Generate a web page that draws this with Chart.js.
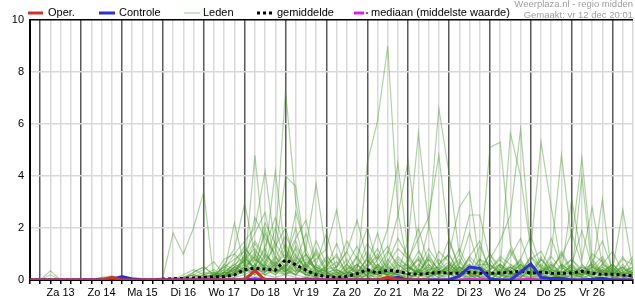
<!DOCTYPE html>
<html>
<head>
<meta charset="utf-8">
<script src="https://cdn.jsdelivr.net/npm/chart.js@4.4.1/dist/chart.umd.min.js"></script>
<style>
  html, body { margin: 0; padding: 0; background: #fff; }
  #wrap { width: 635px; height: 300px; }
</style>
</head>
<body>
<div id="wrap"><canvas id="neerslag" width="635" height="300"></canvas></div>
<script>
// steps of 6 hours, step 0 = vr 12 dec 18:00
const dagen = ['Za 13', 'Zo 14', 'Ma 15', 'Di 16', 'Wo 17', 'Do 18', 'Vr 19', 'Za 20', 'Zo 21', 'Ma 22', 'Di 23', 'Wo 24', 'Do 25', 'Vr 26'];
const yTicks = [0, 2, 4, 6, 8, 10];

const oper = [0, 0,0,0,0, 0,0,0,0.1, 0,0,0,0, 0,0,0,0, 0,0,0,0, 0,0.36,0,0, 0,0,0,0, 0,0,0,0, 0,0,0.1,0.02, 0,0,0];
const controle = [0, 0,0,0,0, 0,0,0,0.02, 0.13,0.04,0,0, 0,0,0,0, 0,0,0,0, 0,0,0,0, 0,0,0,0, 0,0,0,0, 0,0,0.04,0.1, 0,0,0,0, 0,0.15,0.5,0.45, 0.05,0,0,0.3, 0.62,0.1,0.06,0.07, 0,0,0.03,0.07, 0,0,0];
const gemiddelde = [0, 0,0.01,0,0, 0,0,0.01,0.02, 0.02,0.01,0,0, 0.03,0.05,0.06,0.08, 0.1,0.12,0.13,0.2, 0.4,0.45,0.42,0.38, 0.78,0.58,0.38,0.2, 0.13,0.1,0.14,0.24, 0.4,0.26,0.38,0.33, 0.24,0.22,0.25,0.3, 0.26,0.26,0.3,0.26, 0.26,0.27,0.3,0.34, 0.26,0.3,0.26,0.26, 0.27,0.34,0.26,0.22, 0.22,0.19,0.16];
const mediaan = [0, 0,0,0,0, 0,0,0,0, 0,0,0,0, 0,0,0,0, 0,0,0,0, 0,0.05,0.03,0, 0,0,0.05,0.03, 0,0,0,0, 0,0,0,0, 0,0,0,0, 0,0,0.02,0.01, 0,0,0,0.01, 0.02,0,0,0, 0,0,0,0, 0,0,0];

const lid01 = [0, 0,0.35,0,0, 0,0,0,0.1, 0,0,0,0, 0.1,1.8,1.0,2.0, 3.4,0,0.2,0.4, 0.8,1.2,0.6,0.3, 0.5,1.0,0.4,0.2, 0,0.1,0.3,0, 0.2,0.5,0.1,0, 0,0.3,0.8,0.2, 0.1,0,0,0.4, 1.0,0.3,0,0.1, 0,0.2,0.6,0.2, 0,0,0.3,0.8, 0.2,0,0];
const lid02 = [0, 0,0.2,0,0, 0,0,0.05,0.12, 0.05,0,0,0, 0,0,0,0.3, 0.5,0.2,0.3,2.2, 0.5,4.8,1.0,0.6, 0.3,0.8,0.2,0.1, 0,0,0.2,0.6, 0.1,0,0,0.4, 0.2,0,0,0.1, 0,0.5,0.2,0, 0,0,0.3,0.1, 0.4,0,0,0.2, 0.1,0.6,0.2,0, 0,0,0.3];
const lid03 = [0, 0,0,0,0, 0,0,0.1,0.15, 0.1,0,0,0, 0,0,0,0, 0,0.1,0.2,0.5, 1.2,0.8,0.5,1.5, 7.3,3.0,1.0,0.4, 0.2,0,0,0.3, 0.8,0.2,0,0, 0,0,0.1,0.4, 1.0,0.2,0,0, 0,0.3,1.2,0.5, 0,0,0.1,0.2, 0.6,0.1,0,0, 0.3,0.9,0.2];
const lid04 = [0, 0,0,0,0, 0,0,0,0.05, 0,0,0,0, 0,0,0.1,0.2, 0.1,0,0.3,0.6, 0.9,0.4,2.0,0.5, 0.2,0.1,0,0.5, 0.3,0,0.1,0.3, 4.5,6.1,9.0,2.6, 0.5,0.2,0,0, 0,0.3,0.8,0.2, 0,0.1,0.5,0.2, 0,0,0.4,1.0, 0.3,0,0,0.2, 0.5,0.1,0];
const lid05 = [0, 0,0,0,0, 0,0,0,0, 0,0,0,0, 0,0,0,0, 0,0.2,0.4,1.0, 1.5,2.0,4.2,1.2, 0.4,0.2,0.6,1.0, 0.3,0.1,0,0, 0.2,0.5,0.3,0.1, 0,0.4,2.0,6.6, 4.1,1.0,0.3,0.1, 0,0,0.2,0.6, 0.2,0,0,0.4, 0.8,0.3,0.1,0, 0,0.2,0.1];
const lid06 = [0, 0,0,0,0, 0,0,0,0, 0,0,0,0, 0,0,0,0, 0.1,0,0.3,0.2, 0.8,1.5,0.9,4.2, 1.0,0.5,1.2,3.7, 1.0,0.3,0,0.1, 0.4,0.2,0.1,0, 0.3,0.8,0.2,0, 0,0,0.1,0.5, 0.2,0.6,0.3,0, 0.1,0.2,0,0, 0,0.4,0.6,0.2, 0,0,0.1];
const lid07 = [0, 0,0,0,0, 0,0,0,0.05, 0,0,0,0, 0,0,0.2,0.4, 0.2,0.1,0.6,1.2, 2.95,1.0,0.4,0.2, 0.6,1.5,0.5,0.8, 1.2,2.7,0.6,0.2, 0,0.3,0.6,0.2, 0.1,0,0,0.3, 0.5,0.2,0.6,0.1, 0,0.3,0.2,0.8, 0.1,0,0,0.3, 0.5,0.2,0,0, 0.1,0,0];
const lid08 = [0, 0,0,0,0, 0,0,0,0, 0,0,0,0, 0,0,0,0, 0,0.1,0.2,0.3, 0.5,1.1,0.7,1.3, 2.0,0.6,0.3,0.1, 0.4,0.5,1.1,2.3, 0.8,0.4,0.2,0.3, 1.5,5.65,2.1,0.6, 0.3,0,0.2,0.4, 0.1,0,0,0.2, 0.6,0.3,0,0, 0.2,0.5,0.3,0.1, 0,0.3,0.5];
const lid09 = [0, 0,0,0,0, 0,0,0,0, 0,0,0,0, 0,0,0,0.1, 0.2,0.4,0.1,0.5, 0.3,0.6,1.8,0.9, 0.5,1.2,0.3,0.2, 0.1,0,0.4,0.9, 0.3,0.2,1.0,2.5, 4.6,1.2,0.3,0.1, 0.2,0.5,0.3,0.5, 5.1,5.3,1.4,0.3, 0,0.1,0.2,0.3, 0.4,0.2,0.6,0.3, 0.1,0,0];
const lid10 = [0, 0,0,0,0, 0,0,0,0, 0,0,0,0, 0,0,0,0, 0,0,0,0.2, 0.6,0.3,1.0,0.5, 0.8,2.0,0.4,0.1, 0,0.2,0.1,0.5, 1.4,0.8,2.0,4.5, 1.0,0.3,0.1,0.6, 1.0,0.3,0,0.2, 0.8,1.5,2.5,5.8, 1.2,0.4,0.2,0.1, 0,0.3,0.1,0.5, 0.2,0,0.3];
const lid11 = [0, 0,0,0,0, 0,0,0,0, 0,0,0,0, 0,0,0,0, 0.1,0.2,0.5,0.3, 0.9,0.4,0.6,2.0, 0.7,0.3,0.5,1.1, 0.3,0,0.2,0.1, 0,0.6,0.3,0.2, 0.8,1.6,2.4,4.8, 1.5,0.5,0.3,0.1, 0,0.4,5.65,4.0, 1.2,5.3,2.8,0.5, 0.2,0.1,0,0.3, 0.6,0.2,0];
const lid12 = [0, 0,0,0,0, 0,0,0,0, 0,0,0,0, 0,0,0,0, 0,0.1,0.3,0.6, 0.4,1.0,0.5,0.3, 0.2,0.6,1.0,0.4, 0.1,0.3,0.8,0.2, 0.5,1.0,0.4,0.2, 0,0.5,1.2,0.6, 1.0,2.8,3.4,0.6, 0.6,0.2,0,0.3, 0.9,0.3,1.0,4.8, 1.5,4.7,0.8,0.3, 0.2,0.5,0.1];
const lid13 = [0, 0,0,0,0, 0,0,0,0, 0,0,0,0, 0,0,0,0, 0.2,0.3,0.1,0.4, 0.6,1.4,0.8,0.5, 1.2,0.4,0.2,0.6, 0.3,0.1,0,0.2, 0.6,1.8,0.5,0.1, 0.2,0.4,0.3,0.8, 0.3,1.0,2.5,2.5, 0.8,0.2,0.1,0.4, 0.5,0.3,0.6,0.3, 3.1,0.8,2.8,0.6, 0.4,2.7,0.4];
const lid14 = [0, 0,0,0,0, 0,0,0,0, 0,0,0,0, 0,0,0.1,0.3, 0.5,0.2,0.8,1.0, 0.6,2.4,1.6,1.0, 4.0,3.6,0.9,0.3, 0.1,0.4,0.2,0.9, 2.0,0.6,0.3,0.8, 0.5,0.2,0.6,0.3, 0.4,0.8,0.2,0, 0.2,0.6,0.3,0.1, 0.5,0.2,0,0.6, 0.3,0.1,0.7,1.5, 0.4,0,0.8];
const lid15 = [0, 0,0,0,0, 0,0,0,0.08, 0.05,0,0,0, 0,0,0,0.1, 0,0.3,0.1,0.2, 0.5,0.9,2.2,1.4, 0.8,1.6,2.3,0.6, 1.8,0.4,0.2,0.1, 0.3,0,0.6,1.2, 0.8,0.3,0.5,0.2, 0,0.2,0.9,1.5, 0.3,0,0.2,0.6, 0.2,0.8,0.3,0, 0,0.2,0.5,0.3, 0.6,0.2,0.1];
const lid16 = [0, 0,0,0,0, 0,0,0,0, 0,0,0,0, 0,0,0,0, 0.1,0,0.2,0.7, 1.3,0.6,0.3,0.8, 1.7,0.9,0.4,1.5, 0.6,0.9,0.3,0.5, 1.1,0.4,0.2,0.6, 0.3,0.9,0.4,0.2, 0.6,0.3,0.1,0.2, 0.4,0.9,0.6,0.2, 0,0.4,1.6,0.5, 0.2,4.0,0.3,3.1, 0,0.3,0.2];
const lid17 = [0, 0,0,0,0, 0,0,0,0, 0,0,0,0, 0,0.1,0,0, 0.2,0.1,0.4,0.3, 1.0,1.8,2.6,0.7, 0.4,1.3,0.6,0.2, 0.5,1.4,0.4,0.1, 0.2,0.8,1.3,0.4, 0.2,0.1,1.0,0.3, 0.5,1.2,0.4,0.6, 0.2,0.3,0.9,1.6, 0.4,0.2,0.5,0.9, 1.8,0.6,0.2,0.4, 0.3,0.8,0.6];
const lid18 = [0, 0,0,0,0, 0,0,0,0.05, 0,0,0,0, 0,0,0.05,0.2, 0.4,0.7,0.2,0.5, 0.7,0.5,1.3,2.4, 1.1,0.6,0.8,0.4, 0.2,0.5,1.5,0.8, 0.4,0.3,0.7,1.6, 0.9,0.4,0.2,1.1, 0.7,0.2,0.5,0.3, 1.0,0.5,0.2,0.3, 0.8,1.1,0.4,0.2, 0.6,1.9,0.5,0.2, 0.1,0.4,0.9];
const lid19 = [0, 0,0,0,0, 0,0,0,0, 0,0,0,0, 0,0,0,0, 0,0,0.1,0.5, 0.3,0.8,0.5,0.2, 0.6,2.6,1.2,0.3, 0.8,0.2,0.6,1.3, 0.5,0.9,0.2,0.1, 0.7,2.0,0.6,0.2, 0.3,0.6,1.8,0.4, 0.2,0.1,0.4,0.8, 1.7,0.5,0.2,0.6, 0.3,0.2,1.0,0.7, 0.2,0.5,0.1];
const lid20 = [0, 0,0,0,0, 0,0,0,0, 0,0,0,0, 0,0,0,0, 0.1,0.2,0.1,0.3, 0.4,0.3,0.9,0.6, 1.0,0.4,0.3,1.2, 0.4,0.7,0.3,0.2, 0.9,0.5,1.1,0.6, 0.3,0.2,0.4,0.5, 1.6,0.4,0.2,0.8, 0.6,0.2,1.1,0.4, 0.3,0.9,0.2,0.5, 0.8,0.4,0.2,0.6, 1.1,0.3,0.2];
const lid21 = [0, 0,0,0,0, 0,0,0,0, 0,0,0,0, 0,0,0,0, 0,0,0.3,0.2, 0.5,0.2,0.4,0.9, 0.3,0.7,1.8,0.5, 0.2,0.1,0.5,0.3, 0.6,1.2,0.4,0.9, 0.5,0.3,0.9,0.4, 0.2,0.5,0.3,1.3, 0.4,0.8,0.3,0.2, 0.5,0.2,0.9,0.4, 0.6,0.3,0.4,0.2, 0.5,0.1,0.4];
const lid22 = [0, 0,0,0,0, 0,0,0,0, 0,0,0,0, 0,0,0,0, 0,0.1,0.6,0.4, 0.3,0.6,0.2,0.5, 0.4,0.2,0.6,0.3, 0.5,1.0,0.2,0.4, 0.3,0.5,0.2,0.7, 0.4,1.1,0.5,0.2, 0.6,0.3,0.9,0.5, 0.3,0.2,0.5,0.3, 0.9,0.5,0.3,1.1, 0.4,0.2,0.5,0.9, 0.3,0.5,0.2];
const lid23 = [0, 0,0,0,0, 0,0,0,0, 0,0,0,0, 0,0,0,0, 0,0,0,0.1, 0.2,0.4,0.3,0.6, 1.4,0.5,0.2,0.3, 0.1,0.3,0.2,0.1, 0.4,0.2,0.5,0.3, 0.2,0.6,0.3,0.1, 0.3,0.2,0.4,0.2, 0.6,0.3,0.1,0.4, 0.2,0.6,0.3,0.2, 0.4,0.2,0.7,0.3, 0.2,0.4,0.3];
const lid24 = [0, 0,0,0,0, 0,0,0,0, 0,0,0,0, 0,0,0,0, 0,0,0,0, 0.1,0.3,0.2,0.4, 0.3,0.6,0.4,0.2, 0.3,0.2,0.4,0.6, 0.2,0.4,0.3,0.2, 0.5,0.3,0.2,0.4, 0.7,0.4,0.2,0.3, 0.2,0.5,0.3,0.6, 0.3,0.2,0.4,0.3, 0.5,0.3,0.2,0.4, 0.2,0.3,0.5];
const lid25 = [0, 0,0,0,0, 0,0,0,0.1, 0.05,0,0,0, 0,0.05,0.1,0.05, 0.1,0.2,0.1,0.2, 0.3,0.5,0.2,0.1, 0.2,0.4,0.2,0.1, 0.2,0.1,0.3,0.2, 0.1,0.3,0.2,0.4, 0.2,0.1,0.3,0.2, 0.4,0.2,0.1,0.3, 0.2,0.4,0.2,0.1, 0.3,0.2,0.1,0.3, 0.2,0.4,0.1,0.2, 0.3,0.1,0.2];
const lid26 = [0, 0,0,0,0, 0,0,0.1,0.05, 0.1,0.05,0,0, 0,0,0.1,0.2, 0.1,0,0.2,0.1, 0.4,0.2,0.6,0.3, 0.5,0.2,0.1,0.4, 0.2,0.1,0.1,0.3, 0.2,0.1,0.4,0.2, 0.1,0.3,0.2,0.5, 0.2,0.1,0.3,0.1, 0.2,0.3,0.5,0.2, 0.1,0.4,0.2,0.1, 0.3,0.1,0.2,0.4, 0.1,0.2,0.1];
const lid27 = [0, 0,0,0,0, 0,0,0,0.05, 0,0.1,0.05,0, 0,0,0,0, 0,0.1,0.2,0.4, 0.2,0.1,0.3,0.7, 0.3,0.9,0.5,0.2, 0.6,0.3,0.1,0.2, 0.4,0.1,0.3,0.5, 0.6,0.2,0.1,0.3, 0.2,0.7,0.2,0.1, 0.3,0.1,0.6,0.4, 0.2,0.3,0.7,0.2, 0.1,0.3,0.2,0.6, 0.3,0.2,0.4];
const lid28 = [0, 0,0,0,0, 0,0,0.05,0.1, 0,0,0,0, 0,0,0,0.1, 0.3,0.2,0.5,0.8, 1.1,0.3,0.7,0.4, 0.2,0.5,0.2,0.3, 0.4,0.2,0.6,0.3, 0.8,0.3,0.2,0.1, 0.4,0.8,0.3,0.2, 0.5,0.2,0.3,0.8, 0.3,0.2,0.1,0.5, 0.4,0.2,0.3,0.1, 0.2,0.5,0.3,0.2, 0.4,0.2,0.1];
const lid29 = [0, 0,0,0,0, 0,0,0,0, 0,0,0,0, 0,0,0,0, 0,0.2,0.1,0.3, 0.8,0.5,1.2,0.3, 0.6,0.3,1.0,0.4, 0.9,0.5,1.1,0.3, 0.2,0.6,0.1,0.3, 0.5,0.3,0.8,0.4, 0.2,0.4,0.6,0.2, 0.4,0.6,0.2,0.3, 0.2,0.8,0.4,0.2, 0.3,0.2,0.5,0.3, 0.6,0.2,0.3];
const lid30 = [0, 0,0,0,0, 0,0,0,0, 0,0,0,0, 0,0,0,0.05, 0,0.1,0.3,0.2, 0.4,0.9,0.3,0.6, 0.3,0.2,0.7,0.5, 0.3,0.4,0.2,0.6, 0.3,0.2,0.8,0.3, 0.2,0.4,0.1,0.3, 0.6,0.3,0.2,0.5, 0.3,0.2,0.4,0.7, 0.2,0.3,0.5,0.2, 0.4,0.2,0.3,0.5, 0.2,0.6,0.2];

const leden = [lid01, lid02, lid03, lid04, lid05, lid06, lid07, lid08, lid09, lid10,
  lid11, lid12, lid13, lid14, lid15, lid16, lid17, lid18, lid19, lid20,
  lid21, lid22, lid23, lid24, lid25, lid26, lid27, lid28, lid29, lid30];

const FONT = '"Liberation Sans", Arial, sans-serif';

function byId(id) {
  return document.getElementById(id);
}

function punten(arr) {
  return arr.map((v, i) => ({ x: i, y: v }));
}

// legend + source text above the plot
const legendaPlugin = {
  id: 'legenda',
  afterDraw(chart) {
    const ctx = chart.ctx;
    const y = 13;
    ctx.save();

    function lijn(x1, x2, kleur, breedte, dash) {
      ctx.beginPath();
      ctx.setLineDash(dash || []);
      ctx.strokeStyle = kleur;
      ctx.lineWidth = breedte;
      ctx.moveTo(x1, y);
      ctx.lineTo(x2, y);
      ctx.stroke();
      ctx.setLineDash([]);
    }

    lijn(28, 43, '#d22f2f', 3);
    lijn(99, 115, '#2f2fd6', 3);
    lijn(184, 200, '#b9dcaa', 1.5);
    lijn(257, 272, '#000', 3, [3, 3]);
    lijn(354, 364, '#e020e0', 3);
    lijn(366, 368, '#e020e0', 2);

    ctx.font = '11px ' + FONT;
    ctx.fillStyle = '#000';
    ctx.textBaseline = 'middle';
    ctx.textAlign = 'left';
    ctx.fillText('Oper.', 48, y);
    ctx.fillText('Controle', 119, y);
    ctx.fillText('Leden', 203, y);
    ctx.fillText('gemiddelde', 277, y);
    ctx.fillText('mediaan (middelste waarde)', 371, y);

    ctx.font = '9.5px ' + FONT;
    ctx.fillStyle = '#a0a0a0';
    ctx.textAlign = 'right';
    ctx.fillText('Weerplaza.nl - regio midden', 633, 4);
    ctx.fillText('Gemaakt: vr 12 dec 20:01', 633, 15);
    ctx.restore();
  }
};

function render() {
  const datasets = [
    { data: punten(oper), borderColor: '#d22f2f', borderWidth: 3, order: 0 },
    { data: punten(controle), borderColor: '#2f2fd6', borderWidth: 3, order: 1 },
    { data: punten(mediaan), borderColor: '#e020e0', borderWidth: 3, order: 2 },
    { data: punten(gemiddelde), borderColor: '#000', borderWidth: 3, borderDash: [3, 3], order: 3 }
  ];
  leden.forEach(l => {
    datasets.push({ data: punten(l), borderColor: 'rgba(65,150,30,0.42)', borderWidth: 1.2, order: 4 });
  });
  datasets.forEach(d => {
    d.pointRadius = 0;
    d.tension = 0;
    d.fill = false;
  });

  new Chart(byId('neerslag').getContext('2d'), {
    type: 'line',
    data: { datasets },
    options: {
      responsive: false,
      animation: false,
      layout: { padding: { top: 20, left: 0, right: 0, bottom: 0 } },
      plugins: { legend: { display: false }, tooltip: { enabled: false } },
      scales: {
        x: {
          type: 'linear',
          min: 0,
          max: 59,
          afterFit(scale) { scale.height = 20; },
          border: { display: true, color: '#000', width: 2 },
          grid: {
            color: c => (c.tick.value % 4 === 1 ? '#5a5a5a' : '#d9d9d9'),
            lineWidth: 1.5,
            drawTicks: true,
            tickLength: 4,
            tickColor: '#000'
          },
          ticks: {
            stepSize: 1,
            autoSkip: false,
            maxRotation: 0,
            minRotation: 0,
            padding: 2,
            color: '#000',
            font: { family: FONT, size: 11 },
            callback: v => (v % 4 === 3 ? (dagen[(v - 3) / 4] || '') : '')
          }
        },
        y: {
          min: yTicks[0],
          max: yTicks[yTicks.length - 1],
          afterFit(scale) { scale.width = 30; },
          afterBuildTicks(scale) { scale.ticks = yTicks.map(v => ({ value: v })); },
          border: { display: true, color: '#000', width: 2 },
          grid: {
            color: c => (c.tick.value === 10 ? '#000' : (c.tick.value === 0 ? 'rgba(0,0,0,0)' : '#d9d9d9')),
            lineWidth: 1.5,
            drawTicks: false
          },
          ticks: {
            padding: 6,
            color: '#000',
            font: { family: FONT, size: 11 }
          }
        }
      }
    },
    plugins: [legendaPlugin]
  });
}

render();
</script>
</body>
</html>
